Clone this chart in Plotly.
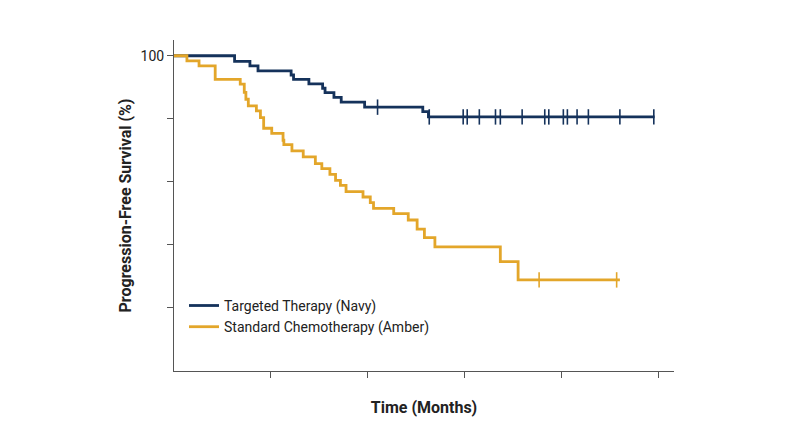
import plotly.graph_objects as go

navy_t = [0, 7.5, 9.4, 10.4, 14.5, 14.8, 16.7, 18.4, 18.7, 19.8, 20.7, 23.6, 30.8, 31.5, 59.5]
navy_s = [100, 98.2, 96.8, 95.2, 93.9, 92.5, 91.1, 89.7, 88.3, 86.8, 85.3, 83.7, 82.3, 80.6, 80.6]
navy_cens_t = [25.2, 31.6, 35.8, 36.3, 37.8, 39.8, 40.4, 43.1, 45.9, 46.4, 48.2, 48.7, 49.9, 51.3, 55.2, 59.4]
navy_cens_s = [83.7, 80.6] + [80.6] * 14

amber_t = [0, 1.6, 3.1, 5.1, 8.2, 8.7, 8.9, 9.2, 10.2, 10.7, 11.1, 12.1, 13.5, 13.6, 14.6, 16.0, 17.5,
           18.3, 19.3, 20.0, 20.6, 21.3, 23.4, 24.3, 24.7, 27.2, 29.0, 30.1, 31.0, 32.3, 40.4, 42.6, 55.2]
amber_s = [100, 98.4, 96.8, 92.5, 91.0, 88.4, 86.2, 84.1, 82.5, 80.4, 77.0, 75.4, 73.2, 71.8, 69.8, 67.9, 65.8,
           64.2, 62.4, 60.5, 58.9, 56.9, 55.2, 53.4, 51.6, 49.9, 47.9, 45.0, 42.3, 39.4, 34.7, 28.9, 28.9]
amber_cens_t = [45.2, 54.8]
amber_cens_s = [28.9, 28.9]

NAVY = "#15325b"
AMBER = "#e3a62a"

fig = go.Figure()
fig.add_trace(go.Scatter(x=navy_t, y=navy_s, mode="lines", line=dict(color=NAVY, width=2.8, shape="hv"),
                         name="Targeted Therapy (Navy)"))
fig.add_trace(go.Scatter(x=amber_t, y=amber_s, mode="lines", line=dict(color=AMBER, width=2.8, shape="hv"),
                         name="Standard Chemotherapy (Amber)"))
fig.add_trace(go.Scatter(x=navy_cens_t, y=navy_cens_s, mode="markers", showlegend=False,
                         marker=dict(symbol="line-ns", size=11, line=dict(color=NAVY, width=1.6))))
fig.add_trace(go.Scatter(x=amber_cens_t, y=amber_cens_s, mode="markers", showlegend=False,
                         marker=dict(symbol="line-ns", size=11, line=dict(color=AMBER, width=1.6))))

fig.update_layout(
    width=800, height=447, plot_bgcolor="white", paper_bgcolor="white",
    margin=dict(l=166, r=134, t=32, b=84),
    font=dict(family="Roboto", size=13, color="#222"),
    xaxis=dict(range=[0, 61.9], tickvals=[12, 24, 36, 48, 60], ticktext=[""] * 5, ticks="outside",
               ticklen=6, tickcolor="#555", showgrid=False, zeroline=False, showline=True,
               linecolor="#555", linewidth=1,
               title=dict(text="<b>Time (Months)</b>", font=dict(size=16), standoff=22)),
    yaxis=dict(range=[0, 105], tickvals=[20, 40, 60, 80, 100], ticktext=["", "", "", "", "100"],
               ticks="outside", ticklen=6, tickcolor="#555", showgrid=False, zeroline=False,
               showline=True, linecolor="#555", linewidth=1, tickfont=dict(size=14),
               title=dict(text="<b>Progression-Free Survival (%)</b>", font=dict(size=16), standoff=4)),
    legend=dict(x=0.02, y=0.245, xanchor="left", yanchor="top", bgcolor="rgba(0,0,0,0)",
                font=dict(size=14)),
)
fig.write_html("out.html")
